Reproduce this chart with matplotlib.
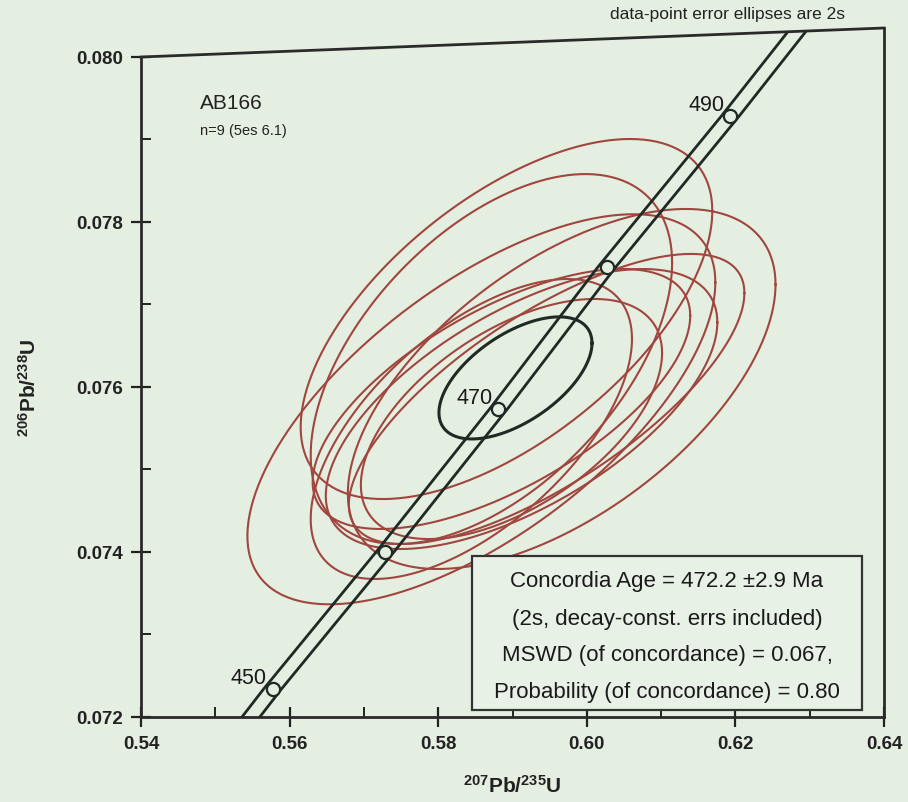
import numpy as np
import matplotlib
matplotlib.use("Agg")
import matplotlib.pyplot as plt
from matplotlib.ticker import MultipleLocator
from matplotlib.lines import Line2D
from matplotlib.patches import Polygon

plt.rcParams['font.family'] = ['Liberation Sans', 'DejaVu Sans']
plt.rcParams['mathtext.fontset'] = 'custom'
plt.rcParams['mathtext.rm'] = 'Liberation Sans'
plt.rcParams['mathtext.bf'] = 'Liberation Sans:bold'

# ---- data ----
# measured analyses: 207Pb/235U, 2s, 206Pb/238U, 2s, rho
x_207_235 = [0.58581, 0.58919, 0.58716, 0.59662, 0.59459, 0.59122, 0.58851, 0.58446, 0.58986]
x_err2s   = [0.03149, 0.02770, 0.02432, 0.02878, 0.02662, 0.02635, 0.02541, 0.02162, 0.02027]
y_206_238 = [0.07573, 0.076824, 0.076339, 0.075976, 0.075855, 0.075733, 0.075855, 0.075491, 0.075612]
y_err2s   = [0.002364, 0.002182, 0.002242, 0.002182, 0.001758, 0.001697, 0.001576, 0.001818, 0.001455]
rho       = [0.65, 0.60, 0.52, 0.58, 0.73, 0.62, 0.64, 0.60, 0.55]

# concordia age ellipse
conc_x, conc_sx, conc_y, conc_sy, conc_rho = 0.5904, 0.0103, 0.07611, 0.00074, 0.57

# concordia age markers (age Ma, 207/235, 206/238)
conc_ages = [450, 460, 470, 480, 490]
conc_r75  = [0.55770, 0.57284, 0.58811, 0.60270, 0.61932]
conc_r68  = [0.072339, 0.074000, 0.075733, 0.077455, 0.079285]
band_half = 0.0012
label_ages = [450, 470, 490]

x_ticks = [0.54, 0.56, 0.58, 0.60, 0.62, 0.64]
y_ticks = [0.072, 0.074, 0.076, 0.078, 0.080]

box_lines = ['Concordia Age = 472.2 \u00b12.9 Ma',
             '(2s, decay-const. errs included)',
             'MSWD (of concordance) = 0.067,',
             'Probability (of concordance) = 0.80']

bg = '#e4efe2'
red = '#a0463e'
ink = '#1f2a24'

W, H = 908, 803
fig = plt.figure(figsize=(W/100, H/100), dpi=100, facecolor=bg)
L, R, B, T = 141, 884, 718, 58
ax = fig.add_axes([L/W, 1 - B/H, (R-L)/W, (B-T)/H], facecolor=bg)

# photographed frame: top edge rises towards the right
T_right = 29
frame = Polygon([[L/W, 1-B/H], [R/W, 1-B/H], [R/W, 1-T_right/H], [L/W, 1-T/H]],
                closed=True, transform=fig.transFigure, facecolor='none', edgecolor='none')
fig.add_artist(frame)

def ell(cx, sx, cy, sy, r, n=300):
    t = np.linspace(0, 2*np.pi, n)
    return cx + sx*np.cos(t), cy + sy*(r*np.cos(t) + np.sqrt(1-r*r)*np.sin(t))

for cx, sx, cy, sy, r in zip(x_207_235, x_err2s, y_206_238, y_err2s, rho):
    ex, ey = ell(cx, sx, cy, sy, r)
    ax.plot(ex, ey, color=red, lw=1.5, zorder=2)

ex, ey = ell(conc_x, conc_sx, conc_y, conc_sy, conc_rho)
ax.plot(ex, ey, color=ink, lw=2.2, zorder=4)

# concordia band through the marker points, extended to the frame
fit = np.polyfit(conc_r68, conc_r75, 1)
y_ext = [0.0714] + conc_r68 + [0.0806]
x_ext = [np.polyval(fit, y_ext[0])] + conc_r75 + [np.polyval(fit, y_ext[-1])]
for s in (-1, 1):
    ln, = ax.plot(np.array(x_ext) + s*band_half, y_ext, color=ink, lw=2.0, zorder=3)
    ln.set_clip_box(None)
    ln.set_clip_path(frame)
    ln.set_clip_box(None)

for i, a in enumerate(conc_ages):
    ax.plot(conc_r75[i], conc_r68[i], 'o', ms=9.5, mfc=bg, mec=ink, mew=1.6, zorder=5)
for a in label_ages:
    i = conc_ages.index(a)
    ax.annotate(str(a), (conc_r75[i], conc_r68[i]), xytext=(-4, 1), textcoords='offset points',
                ha='right', va='bottom', fontsize=15.5, color='#1a1a1a', zorder=6)

ax.set_xlim(0.54, 0.64)
ax.set_ylim(0.072, 0.080)
ax.set_xticks(x_ticks)
ax.set_yticks(y_ticks)
ax.set_xticklabels([f'{v:.2f}' for v in x_ticks])
ax.set_yticklabels([f'{v:.3f}' for v in y_ticks])
ax.xaxis.set_minor_locator(MultipleLocator(0.01))
ax.yaxis.set_minor_locator(MultipleLocator(0.001))
ax.tick_params(which='major', direction='inout', length=14, width=1.6, labelsize=13.5, pad=6, colors='#222222')
ax.tick_params(which='minor', direction='in', length=7, width=1.4, colors='#222222')
for lab in ax.get_xticklabels() + ax.get_yticklabels():
    lab.set_fontweight('bold')
for k in ('left', 'bottom'):
    ax.spines[k].set_linewidth(2.0)
    ax.spines[k].set_color('#2a2a2a')
ax.spines['top'].set_visible(False)
ax.spines['right'].set_visible(False)
fig.add_artist(Line2D([L/W, R/W], [1-T/H, 1-T_right/H], transform=fig.transFigure, color='#2a2a2a', lw=2.0))
fig.add_artist(Line2D([R/W, R/W], [1-B/H, 1-T_right/H], transform=fig.transFigure, color='#2a2a2a', lw=2.0))

ax.set_xlabel(r'$\mathbf{^{207}Pb/^{235}U}$', fontsize=15, labelpad=16, color='#222222')
ax.set_ylabel(r'$\mathbf{^{206}Pb/^{238}U}$', fontsize=15, labelpad=26, color='#222222')

ax.text(0.079, 0.945, 'AB166', transform=ax.transAxes, fontsize=15, va='top', ha='left', color='#222222')
ax.text(0.079, 0.900, 'n=9 (5es 6.1)', transform=ax.transAxes, fontsize=10.5, va='top', ha='left', color='#222222')
fig.text(728/W, 1 - 15/H, 'data-point error ellipses are 2s', fontsize=12.5, ha='center', va='center', color='#222222')

# results box
bx0, bx1, by_top, by_bot = 472, 862, 557, 711
ax.add_patch(plt.Rectangle(((bx0-L)/(R-L), (B-by_bot)/(B-T)), (bx1-bx0)/(R-L), (by_bot-by_top)/(B-T),
                           transform=ax.transAxes, facecolor='#e7f1e5', edgecolor='#333333', lw=1.6, zorder=9))
for k, s in enumerate(box_lines):
    yc = 582 + k*37
    ax.text(((bx0+bx1)/2 - L)/(R-L), (B-yc)/(B-T), s, transform=ax.transAxes, ha='center', va='center',
            fontsize=16, color='#1a1a1a', zorder=10)

fig.savefig('out.png', dpi=100, facecolor=bg)
